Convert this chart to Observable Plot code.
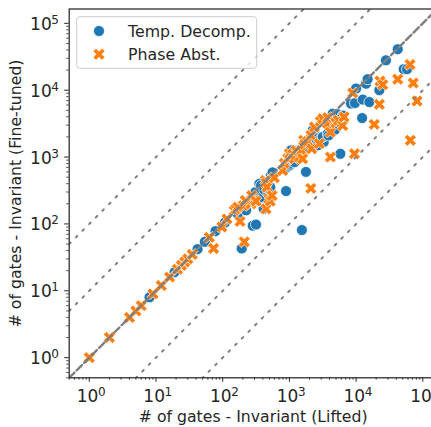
<!DOCTYPE html>
<html><head><meta charset="utf-8">
<script src="https://cdn.jsdelivr.net/npm/d3@7"></script>
<script src="https://cdn.jsdelivr.net/npm/@observablehq/plot@0.6"></script>
<style>
html,body{margin:0;padding:0;overflow:hidden;background:#fff;}
#chart svg{max-width:none !important;}
</style>
</head><body><div id="chart"></div>
<script>
// ---- data ----
const seriesNames = ["Temp. Decomp.", "Phase Abst."];
const seriesColors = ["#1f77b4", "#ff7f0e"];
const xLabel = "# of gates - Invariant (Lifted)";
const yLabel = "# of gates - Invariant (Fine-tuned)";
const majorTicks = [1, 10, 100, 1000, 10000, 100000];
const tickExponents = ["0", "1", "2", "3", "4", "5"];
const ratioLines = [1, 10, 100, 0.1, 0.01];

const tempX = [8, 19, 25, 42, 54, 78, 108, 168, 193, 224, 282, 316, 309, 355, 375, 375, 389, 398, 411, 421, 483, 500, 517, 530, 560,
  890, 920, 1000, 1000, 1057, 1190, 1330, 1490, 1540, 1770, 1820, 2240, 2370, 2420, 2660, 2980, 3270, 3160, 3750, 3870, 4460, 4840,
  5300, 5800, 6300, 8380, 9630, 10000, 12300, 12600, 14100, 14900, 15800, 22300, 28000, 42100, 51700, 58000];
const tempY = [8, 19, 25, 42, 54, 78, 105, 141, 43, 160, 94, 98, 298, 398, 375, 282, 237, 251, 168, 324, 282, 335, 355, 530, 590,
  310, 707, 750, 795, 1260, 840, 1260, 1330, 81, 600, 1410, 2510, 2240, 1920, 1500, 1880, 1670, 2000, 2240, 2110, 4460, 2570,
  4360, 1120, 4170, 6300, 6430, 10600, 3830, 7230, 12500, 14600, 6650, 10000, 28000, 41000, 20600, 20600];

const phaseX = [1, 2, 4, 5, 6, 9, 12, 16, 21, 24, 27, 30, 35, 63, 73, 97, 116, 149, 158, 182, 168, 203, 211, 218, 266, 272, 298, 316,
  437, 447, 447, 460, 490, 517, 550, 595, 795, 840, 943, 1000, 1120, 1190, 1260, 1410, 1530, 1580, 1640, 1710, 1880, 2100, 2110,
  2160, 2370, 2810, 2910, 3160, 3750, 3750, 4120, 4120, 4830, 5010, 5430, 6310, 6600, 8900, 9450, 18700, 22300, 22800, 25100,
  42100, 64300, 65000, 72000, 81900];
const phaseY = [1, 2, 4, 5, 6, 9, 12, 16, 21, 24, 27, 30, 35, 63, 43, 90, 119, 158, 168, 109, 178, 188, 54, 224, 200, 265, 224, 219,
  447, 168, 407, 355, 237, 219, 266, 490, 630, 810, 943, 1120, 1100, 943, 1260, 1000, 1260, 943, 1780, 1550, 1710, 340, 2110,
  1330, 2810, 1590, 3420, 3750, 3160, 3890, 2360, 1000, 3340, 3240, 3550, 2960, 3980, 9080, 1120, 3080, 6150, 13700, 12100,
  14600, 24200, 1780, 12800, 6890];

// ---- derived ----
const tempData = tempX.map((x, i) => ({x, y: tempY[i]}));
const phaseData = phaseX.map((x, i) => ({x, y: phaseY[i]}));
const allVals = [...tempX, ...tempY, ...phaseX, ...phaseY];
const lo = d3.min(allVals) * 0.5, hi = d3.max(allVals) * 2;
const minorTicks = [];
for (let e = -1; e <= 5; e++) for (let m = 2; m <= 9; m++) {
  const v = m * Math.pow(10, e);
  if (v >= lo && v <= hi) minorTicks.push(v);
}
const refData = ratioLines.flatMap(k => [lo, hi].map(v => ({x: v, y: v * k, k})));

// filled "X" marker (matplotlib style)
const xFilled = {
  draw(context, size) {
    const r = Math.sqrt(size / Math.PI);
    const u = r / 3, c = Math.SQRT1_2;
    const pts = [[-1,-3],[1,-3],[1,-1],[3,-1],[3,1],[1,1],[1,3],[-1,3],[-1,1],[-3,1],[-3,-1],[-1,-1]];
    pts.forEach(([a, b], i) => {
      const x = (a - b) * c * u, y = (a + b) * c * u;
      i ? context.lineTo(x, y) : context.moveTo(x, y);
    });
    context.closePath();
  }
};

const ink = "#262626";
const svg = Plot.plot({
  width: 440, height: 427,
  marginLeft: 68.7, marginRight: 3.4, marginTop: 8.5, marginBottom: 49.7,
  x: {type: "log", domain: [lo, hi]},
  y: {type: "log", domain: [lo, hi]},
  style: {fontFamily: "DejaVu Sans", color: ink, background: "white", overflow: "visible", maxWidth: "none"},
  marks: [
    Plot.dot(tempData, {x: "x", y: "y", r: 5.5, fill: seriesColors[0], stroke: "white", strokeWidth: 0.75}),
    Plot.dot(phaseData, {x: "x", y: "y", r: 6.3, symbol: xFilled, fill: seriesColors[1], stroke: "white", strokeWidth: 0.7}),
    Plot.line(refData.filter(d => d.k !== 1), {x: "x", y: "y", z: "k", stroke: "gray", strokeWidth: 2, strokeDasharray: "2,7.4", clip: true}),
    Plot.line(refData.filter(d => d.k === 1), {x: "x", y: "y", stroke: "gray", strokeWidth: 2.4, strokeDasharray: "7.4,3.2", clip: true}),
    Plot.frame({stroke: ink, strokeWidth: 1.25}),
    Plot.axisX(majorTicks, {tickSize: 4.5, stroke: ink, strokeWidth: 1, tickFormat: () => "", label: null}),
    Plot.axisX(minorTicks, {tickSize: 2.5, stroke: ink, strokeWidth: 0.8, tickFormat: () => "", label: null}),
    Plot.axisY(majorTicks, {tickSize: 4.5, stroke: ink, strokeWidth: 1, tickFormat: () => "", label: null}),
    Plot.axisY(minorTicks, {tickSize: 2.5, stroke: ink, strokeWidth: 0.8, tickFormat: () => "", label: null}),
    Plot.text(majorTicks, {x: d => d, frameAnchor: "bottom", text: () => "10", textAnchor: "end", lineAnchor: "bottom", dx: 9, dy: 24.4, fontSize: 17, fill: ink}),
    Plot.text(majorTicks, {x: d => d, frameAnchor: "bottom", text: (d, i) => tickExponents[i], textAnchor: "start", lineAnchor: "bottom", dx: 8.6, dy: 18.4, fontSize: 12, fill: ink}),
    Plot.text(majorTicks, {y: d => d, frameAnchor: "left", text: () => "10", textAnchor: "end", lineAnchor: "bottom", dx: -17.5, dy: 6.5, fontSize: 17, fill: ink}),
    Plot.text(majorTicks, {y: d => d, frameAnchor: "left", text: (d, i) => tickExponents[i], textAnchor: "start", lineAnchor: "bottom", dx: -17.9, dy: 0.5, fontSize: 12, fill: ink}),
    Plot.text([xLabel], {frameAnchor: "bottom", text: d => d, textAnchor: "middle", lineAnchor: "bottom", dy: 44, fontSize: 15.7, fill: ink}),
    Plot.text([yLabel], {frameAnchor: "left", text: d => d, rotate: -90, textAnchor: "middle", lineAnchor: "bottom", dx: -47.7, fontSize: 15.7, fill: ink})
  ]
});
svg.style.maxWidth = "none";
svg.style.height = "427px";
svg.style.width = "440px";
document.getElementById("chart").appendChild(svg);

// legend (inside the axes, top-left)
const lg = d3.select(svg).append("g").attr("font-family", "DejaVu Sans").attr("font-size", 15.8).attr("text-anchor", "start");
lg.append("rect").attr("x", 76.7).attr("y", 16.7).attr("width", 180).attr("height", 51.6)
  .attr("rx", 3).attr("fill", "white").attr("fill-opacity", 0.8).attr("stroke", "#cccccc").attr("stroke-width", 1);
const symbols = [d3.symbolCircle, xFilled];
const radii = [5.5, 6.3];
seriesNames.forEach((name, i) => {
  const cy = 31 + i * 23.3;
  lg.append("path").attr("transform", `translate(99,${cy})`)
    .attr("d", d3.symbol(symbols[i], radii[i] * radii[i] * Math.PI)())
    .attr("fill", seriesColors[i]).attr("stroke", "white").attr("stroke-width", 0.75);
  lg.append("text").attr("x", 128).attr("y", cy + 5.6).attr("text-anchor", "start").attr("fill", ink).text(name);
});
</script>
</body></html>
